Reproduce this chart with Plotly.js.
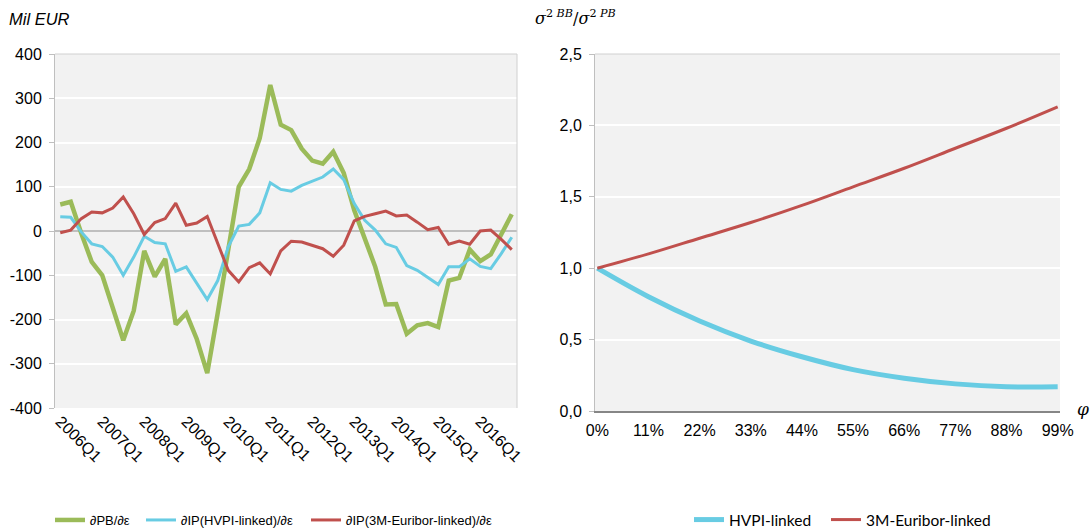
<!DOCTYPE html>
<html>
<head>
<meta charset="utf-8">
<script src="https://cdn.plot.ly/plotly-3.0.1.min.js"></script>
<style>
html,body{margin:0;padding:0;background:#fff;}
#chart{width:1090px;height:530px;}
</style>
</head>
<body>
<div id="chart"></div>
<script>
// ---- Left chart data (Mil EUR) ----
const quarters = [
  "2006Q1","2006Q2","2006Q3","2006Q4","2007Q1","2007Q2","2007Q3","2007Q4",
  "2008Q1","2008Q2","2008Q3","2008Q4","2009Q1","2009Q2","2009Q3","2009Q4",
  "2010Q1","2010Q2","2010Q3","2010Q4","2011Q1","2011Q2","2011Q3","2011Q4",
  "2012Q1","2012Q2","2012Q3","2012Q4","2013Q1","2013Q2","2013Q3","2013Q4",
  "2014Q1","2014Q2","2014Q3","2014Q4","2015Q1","2015Q2","2015Q3","2015Q4",
  "2016Q1","2016Q2","2016Q3","2016Q4"
];
const quarterTicks = ["2006Q1","2007Q1","2008Q1","2009Q1","2010Q1","2011Q1","2012Q1","2013Q1","2014Q1","2015Q1","2016Q1"];
const dPB = [60,66,-5,-70,-100,-172,-247,-180,-45,-103,-63,-211,-186,-244,-321,-185,-45,100,140,210,330,240,228,186,159,152,179,131,47,-14,-81,-166,-165,-232,-213,-208,-217,-112,-106,-42,-68,-53,-10,38];
const dIPHvpi = [32,31,-2,-29,-35,-59,-100,-59,-12,-26,-29,-91,-81,-119,-155,-112,-36,11,15,41,109,94,90,103,113,122,140,116,62,24,2,-29,-37,-78,-89,-104,-121,-81,-81,-63,-80,-85,-51,-14];
const dIPEuribor = [-4,2,28,43,41,52,77,39,-8,19,28,63,13,18,33,-29,-89,-115,-83,-72,-97,-45,-23,-25,-32,-40,-57,-32,23,33,39,45,34,36,20,3,8,-30,-23,-30,0,2,-19,-42];
const leftYTicks = [-400,-300,-200,-100,0,100,200,300,400];

// ---- Right chart data (variance ratio) ----
const phi = [0,11,22,33,44,55,66,77,88,99];
const phiLabels = ["0%","11%","22%","33%","44%","55%","66%","77%","88%","99%"];
const ratioHvpi = [1.00,0.80,0.63,0.49,0.38,0.29,0.23,0.19,0.17,0.17];
const ratioEuribor = [1.00,1.10,1.21,1.32,1.44,1.57,1.70,1.84,1.98,2.13];
const rightYTicks = [0,0.5,1,1.5,2,2.5];
const rightYLabels = ["0,0","0,5","1,0","1,5","2,0","2,5"];

const W = 1090, H = 530;
const px = v => v / W;
const py = v => (H - v) / H;

const GREEN = "#9bbb59", BLUE = "#68cce3", RED = "#c0504d";
const FONT = "Liberation Sans, Arial, sans-serif";

const traces = [
  {x: quarters, y: dPB, type: "scatter", mode: "lines", name: "∂PB/∂ε",
   line: {color: GREEN, width: 4.5}, xaxis: "x", yaxis: "y", legend: "legend"},
  {x: quarters, y: dIPHvpi, type: "scatter", mode: "lines", name: "∂IP(HVPI-linked)/∂ε",
   line: {color: BLUE, width: 3}, xaxis: "x", yaxis: "y", legend: "legend2"},
  {x: quarters, y: dIPEuribor, type: "scatter", mode: "lines", name: "∂IP(3M-Euribor-linked)/∂ε",
   line: {color: RED, width: 3}, xaxis: "x", yaxis: "y", legend: "legend3"},
  {x: phi, y: ratioHvpi, type: "scatter", mode: "lines", name: "HVPI-linked",
   line: {color: BLUE, width: 5, shape: "spline"}, xaxis: "x2", yaxis: "y2", legend: "legend4"},
  {x: phi, y: ratioEuribor, type: "scatter", mode: "lines", name: "3M-Euribor-linked",
   line: {color: RED, width: 3, shape: "spline"}, xaxis: "x2", yaxis: "y2", legend: "legend5"}
];

function leg(xpix, fontFamily, size) {
  return {x: px(xpix), y: py(520), xanchor: "left", yanchor: "middle",
          orientation: "h", bgcolor: "rgba(0,0,0,0)",
          font: {family: fontFamily, size: size, color: "#000"}, itemwidth: 30};
}

const layout = {
  width: W, height: H,
  margin: {l: 0, r: 0, t: 0, b: 0, autoexpand: false},
  paper_bgcolor: "#ffffff",
  plot_bgcolor: "#f2f2f2",
  font: {family: FONT, size: 16, color: "#000"},
  showlegend: true,
  xaxis: {
    domain: [px(55), px(517)], anchor: "y", type: "category", automargin: false,
    range: [-0.5, 43.5], tickmode: "array", tickvals: quarterTicks, ticktext: quarterTicks,
    tickangle: 45, showgrid: false, zeroline: false, showline: false, ticks: "",
    tickfont: {family: FONT, size: 16}
  },
  yaxis: {
    domain: [py(408), py(54)], anchor: "x", range: [-400, 400], automargin: false,
    tickmode: "array", tickvals: leftYTicks, ticktext: leftYTicks.map(String),
    showgrid: true, gridcolor: "#ffffff", gridwidth: 2,
    zeroline: true, zerolinecolor: "#bfbfbf", zerolinewidth: 2,
    showline: true, linecolor: "#bfbfbf", linewidth: 1,
    ticks: "outside", ticklen: 5, tickcolor: "#bfbfbf",
    ticklabelstandoff: 4,
    tickfont: {family: FONT, size: 16}
  },
  xaxis2: {
    domain: [px(595), px(1060)], anchor: "y2", range: [-0.5, 99.5], automargin: false,
    tickmode: "array", tickvals: phi, ticktext: phiLabels,
    showgrid: false, zeroline: false, showline: true, linecolor: "#868686", linewidth: 1.5,
    ticks: "", ticklabelstandoff: 4, tickfont: {family: FONT, size: 16}
  },
  yaxis2: {
    domain: [py(411), py(54)], anchor: "x2", range: [0, 2.5], automargin: false,
    tickmode: "array", tickvals: rightYTicks, ticktext: rightYLabels,
    showgrid: true, gridcolor: "#ffffff", gridwidth: 2, zeroline: false,
    showline: true, linecolor: "#bfbfbf", linewidth: 1,
    ticks: "outside", ticklen: 5, tickcolor: "#bfbfbf",
    ticklabelstandoff: 4,
    tickfont: {family: FONT, size: 16}
  },
  legend: leg(50, FONT, 13),
  legend2: leg(141, FONT, 13),
  legend3: leg(306, FONT, 13),
  legend4: leg(689, "Lato, Open Sans, sans-serif", 15.5),
  legend5: leg(826, "Lato, Open Sans, sans-serif", 15.5),
  shapes: [
    {type: "line", xref: "paper", yref: "paper", x0: px(55), x1: px(517), y0: py(54), y1: py(54),
     line: {color: "#d0d0d0", width: 1}},
    {type: "line", xref: "paper", yref: "paper", x0: px(517), x1: px(517), y0: py(54), y1: py(408),
     line: {color: "#d0d0d0", width: 1}},
    {type: "line", xref: "paper", yref: "paper", x0: px(595), x1: px(1060), y0: py(54), y1: py(54),
     line: {color: "#d0d0d0", width: 1}}
  ],
  annotations: [
    {text: "<i>Mil EUR</i>", xref: "paper", yref: "paper", x: px(7), y: py(19),
     xanchor: "left", yanchor: "middle", showarrow: false, font: {family: FONT, size: 16.5}},
    {text: "<i>σ</i><sup>2 <i>BB</i></sup>/<i>σ</i><sup>2 <i>PB</i></sup>", xref: "paper", yref: "paper",
     x: px(533), y: py(18), xanchor: "left", yanchor: "middle", showarrow: false,
     font: {family: "DejaVu Serif, serif", size: 16}},
    {text: "<i>φ</i>", xref: "paper", yref: "paper", x: px(1083), y: py(409),
     xanchor: "center", yanchor: "middle", showarrow: false,
     font: {family: "DejaVu Serif, serif", size: 17}}
  ]
};

Plotly.newPlot("chart", traces, layout, {displayModeBar: false, staticPlot: true});
</script>
</body>
</html>
